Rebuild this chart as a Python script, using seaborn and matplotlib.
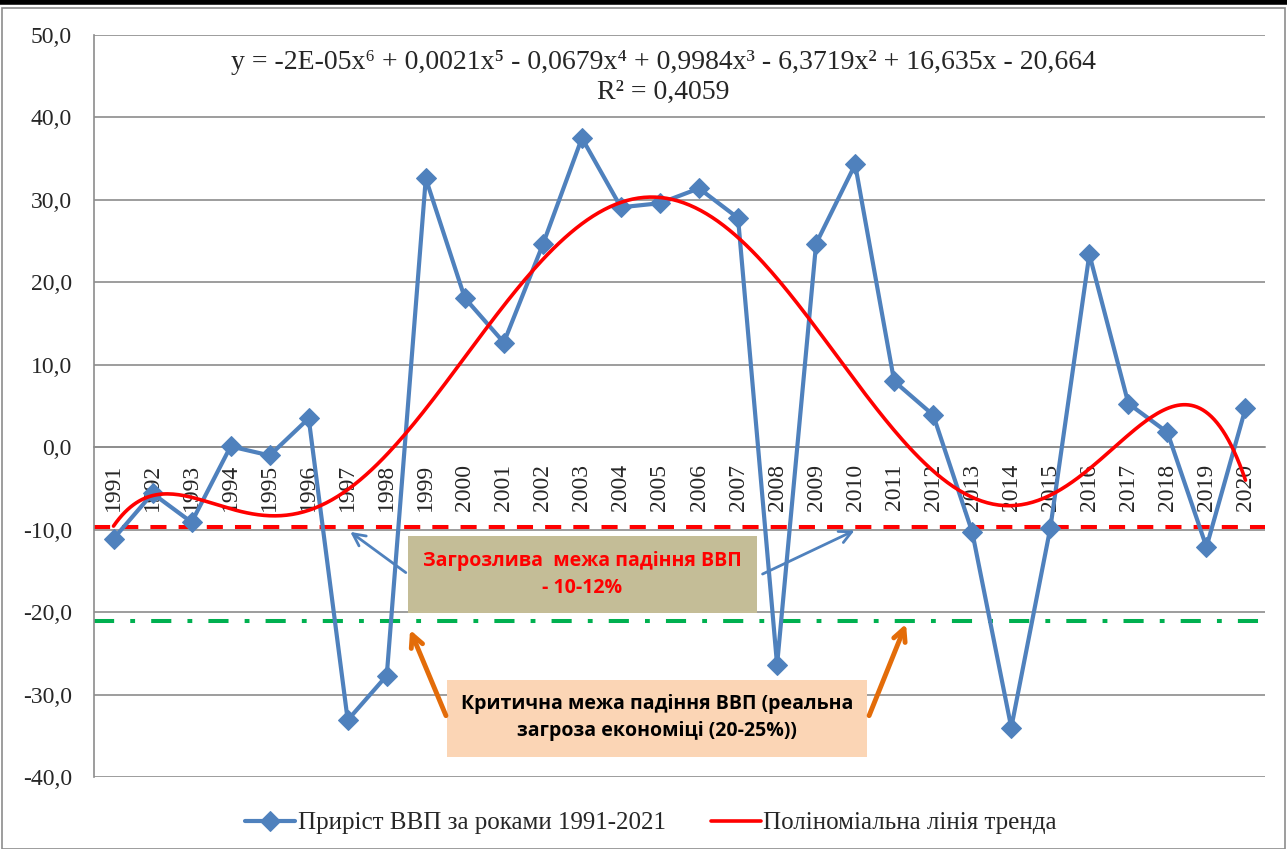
import numpy as np
import pandas as pd
import matplotlib
matplotlib.use("Agg")
import matplotlib.pyplot as plt
import seaborn as sns
from matplotlib.patches import Rectangle
from matplotlib.lines import Line2D
from matplotlib.ticker import FixedLocator, FuncFormatter

# Дані: приріст ВВП за роками
years = [str(y) for y in range(1991, 2021)]
growth = [-11.1, -5.6, -9.1, 0.1, -1.0, 3.5, -33.1, -27.7, 32.6, 18.1,
          12.7, 24.6, 37.5, 29.1, 29.6, 31.4, 27.8, -26.4, 24.7, 34.3,
          8.0, 3.9, -10.3, -34.0, -9.8, 23.4, 5.3, 1.8, -12.1, 4.7]
threat_level = -9.7
critical_level = -21.1
y_ticks = [50, 40, 30, 20, 10, 0, -10, -20, -30, -40]

series_label = "Приріст ВВП за роками 1991-2021"
trend_label = "Поліноміальна лінія тренда"
equation = ("y = -2E-05x\u2076 + 0,0021x\u2075 - 0,0679x\u2074 + 0,9984x\u00b3 "
            "- 6,3719x\u00b2 + 16,635x - 20,664")
r2_text = "R\u00b2 = 0,4059"
box1_text = "Загрозлива  межа падіння ВВП\n- 10-12%"
box2_text = "Критична межа падіння ВВП (реальна\nзагроза економіці (20-25%))"

df = pd.DataFrame({"pos": np.arange(len(years)), "year": years, "growth": growth})

sns.set_style("white")
serif = ["Liberation Serif", "DejaVu Serif"]
sans = ["Open Sans", "Noto Sans", "DejaVu Sans"]
plt.rcParams["font.family"] = serif

fig = plt.figure(figsize=(12.87, 8.49), dpi=100)
ax = fig.add_axes([94 / 1287, 1 - 777 / 849, (1265 - 94) / 1287, (777 - 35) / 849])

# рамка
fig.patches.append(Rectangle((0.0015, 0.0), 0.997, 1 - 8 / 849, transform=fig.transFigure,
                             fill=False, edgecolor="#8c8c8c", lw=1.2, zorder=0))
fig.lines.append(Line2D([0, 1], [0.9975, 0.9975], transform=fig.transFigure,
                        color="black", lw=4))

# пороги
ax.axhline(threat_level, color="#ff0000", lw=2.9, dashes=(4, 3), zorder=1.5)
ax.axhline(critical_level, color="#00b050", lw=2.9, dashes=(5, 4, 1.2, 4), zorder=1.5)

# лінія тренда (поліном 6-го степеня, як в Excel)
xi = np.arange(1, len(growth) + 1)
coef = np.polyfit(xi, growth, 6)
xs = np.linspace(1, len(growth), 400)
trend = pd.DataFrame({"pos": xs - 1, "trend": np.polyval(coef, xs)})

sns.lineplot(data=df, x="pos", y="growth", color="#4f81bd", lw=3, marker="D",
             markersize=10, markeredgecolor="#4f81bd", ax=ax, zorder=3, label=series_label)
sns.lineplot(data=trend, x="pos", y="trend", color="#ff0000", lw=2.6, ax=ax,
             zorder=3.5, label=trend_label)

ax.set_xlim(-0.5, len(years) - 0.5)
ax.set_ylim(-40, 50)
ax.set_xlabel("")
ax.set_ylabel("")

# вісь X проходить через 0 (спочатку позиція спайна, бо вона скидає тики)
ax.spines["bottom"].set_position(("data", 0))
for s in ["top", "right"]:
    ax.spines[s].set_visible(False)
for s in ["bottom", "left"]:
    ax.spines[s].set_color("#8c8c8c")
    ax.spines[s].set_linewidth(1.2)

ax.set_yticks(y_ticks)
ax.yaxis.set_major_formatter(FuncFormatter(lambda v, p: f"{v:.1f}".replace(".", ",")))
ax.grid(axis="y", color="#8c8c8c", lw=1.2, zorder=0.5)
ax.set_axisbelow(True)

ax.xaxis.set_major_locator(FixedLocator(df["pos"]))
ax.set_xticklabels(years, rotation=90, va="top", ha="center")
ax.xaxis.set_minor_locator(FixedLocator(np.arange(len(years) + 1) - 0.5))
ax.tick_params(axis="x", which="major", length=0, pad=12, labelsize=17)
ax.tick_params(axis="x", which="minor", length=5, direction="out", color="#8c8c8c", width=1.2)
ax.tick_params(axis="y", length=6, direction="out", color="#8c8c8c", width=1.2,
               labelsize=17, pad=10)

# рівняння тренда
ax.text(0.486, 0.963, equation, transform=ax.transAxes, ha="center", va="center", fontsize=20)
ax.text(0.486, 0.922, r2_text, transform=ax.transAxes, ha="center", va="center", fontsize=20)

# підписи-блоки
def px2x(px):
    return (px - 94) / 39.03 - 0.5

def py2y(py):
    return (447 - py) / 8.244

ax.add_patch(Rectangle((px2x(408), py2y(613)), px2x(757) - px2x(408), py2y(536) - py2y(613),
                       facecolor="#c4bd97", edgecolor="none", zorder=2))
ax.text(px2x(582), py2y(574), box1_text, ha="center", va="center", color="#ff0000",
        fontsize=14, fontweight="bold", family=sans, linespacing=1.45, zorder=2.1)

ax.add_patch(Rectangle((px2x(447), py2y(757)), px2x(867) - px2x(447), py2y(680) - py2y(757),
                       facecolor="#fbd5b5", edgecolor="none", zorder=2))
ax.text(px2x(657), py2y(717), box2_text, ha="center", va="center", color="black",
        fontsize=14, fontweight="bold", family=sans, linespacing=1.45, zorder=2.1)

# стрілки
for (x0, y0), (x1, y1) in [((408, 574), (348, 530)), ((760, 575), (857, 529))]:
    ax.annotate("", xy=(px2x(x1), py2y(y1)), xytext=(px2x(x0), py2y(y0)),
                arrowprops=dict(arrowstyle="->", color="#4f81bd", lw=2,
                                mutation_scale=22), zorder=2.5)
for (x0, y0), (x1, y1) in [((447, 718), (409, 627)), ((868, 718), (907, 621))]:
    ax.annotate("", xy=(px2x(x1), py2y(y1)), xytext=(px2x(x0), py2y(y0)),
                arrowprops=dict(arrowstyle="->", color="#e36c09", lw=3.5,
                                mutation_scale=22), zorder=2.5)

ax.legend_.remove()
handles, labels = ax.get_legend_handles_labels()
fig.legend(handles, labels, loc="center", bbox_to_anchor=(0.506, 26 / 849), ncol=2,
           frameon=False, fontsize=18, handlelength=2.0, handletextpad=0.1,
           columnspacing=1.8)

fig.savefig("out.png", dpi=100)
